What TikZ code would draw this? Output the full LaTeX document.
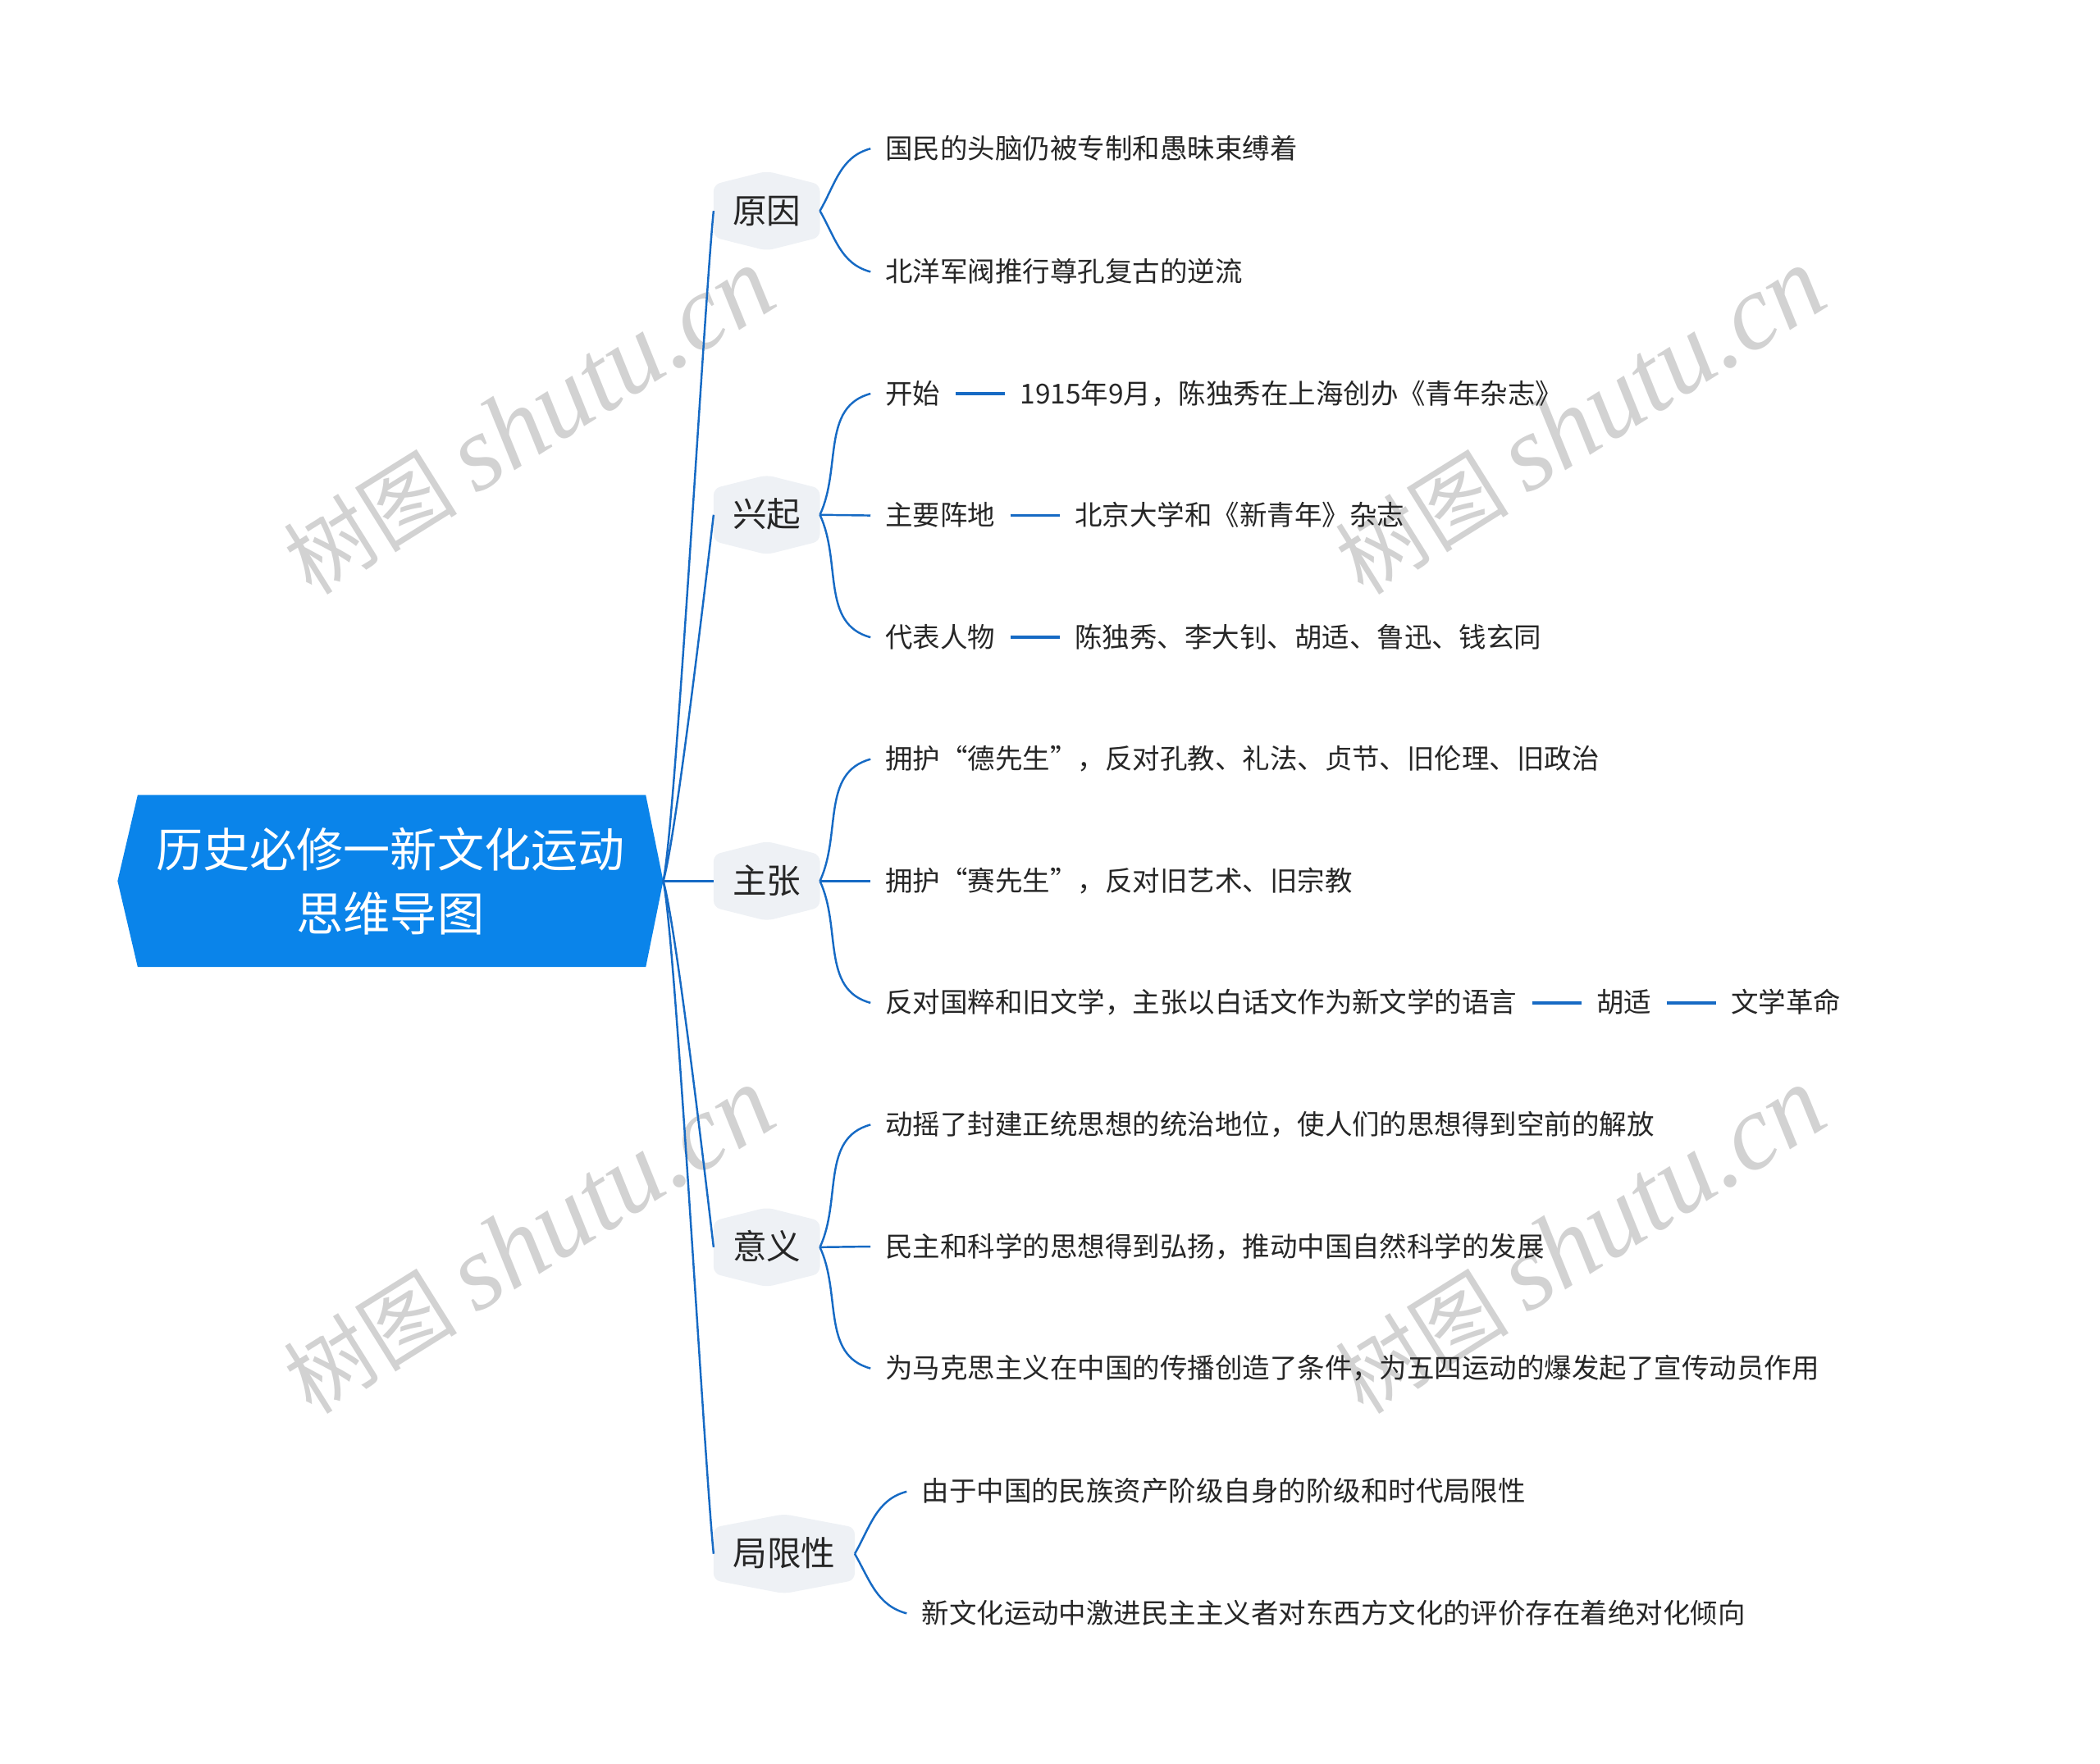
\documentclass[tikz,border=0pt]{standalone}
\usepackage{fontspec}
\setmainfont{Noto Sans CJK SC}
\newfontfamily\wmcjk{Noto Sans CJK SC}
\newfontfamily\wmlatin{Liberation Serif}
\usetikzlibrary{calc,backgrounds,positioning}
\definecolor{rootblue}{RGB}{10,132,234}
\definecolor{linkblue}{RGB}{22,106,196}
\definecolor{hexfill}{RGB}{238,241,245}
\definecolor{txt}{RGB}{38,38,38}
\definecolor{wmgray}{RGB}{210,210,210}
\newcommand{\wmtext}{{\wmcjk\fontsize{65}{70}\selectfont 树图}\hspace{14pt}{\wmlatin\itshape\fontsize{80}{86}\selectfont shutu.cn}}
\begin{document}
\begin{tikzpicture}[x=1pt,y=1pt,
  rootnode/.style={minimum width=407pt,minimum height=128pt,inner sep=0pt,text=white,font=\fontsize{35}{48}\selectfont,align=center},
  branch/.style={minimum height=59pt,minimum width=79pt,inner sep=0pt,text=txt,font=\fontsize{25.5}{30}\selectfont,text height=21.8pt,text depth=3.4pt},
  leaf/.style={anchor=west,inner xsep=11pt,inner ysep=0pt,text=txt,font=\fontsize{20.5}{24}\selectfont,text height=17.5pt,text depth=2.7pt},
  link/.style={draw=linkblue,line width=1.5pt},
  barlink/.style={draw=linkblue,line width=2.2pt},
  wmark/.style={text=wmgray,inner sep=0pt,rotate=32}
]
\useasboundingbox (0,0) rectangle (1568,-1317);

% watermarks
\node[wmark] (wm1) at (395,-315) {\wmtext};
\node[wmark] (wm2) at (1180,-315) {\wmtext};
\node[wmark] (wm3) at (395,-927) {\wmtext};
\node[wmark] (wm4) at (1180,-927) {\wmtext};

% root
\node[rootnode] (root) at (291.5,-658) {历史必修一新文化运动\\思维导图};

% branches
\node[branch] (b1) at (572.5,-157.5) {原因};
\node[branch] (b2) at (572.5,-384.5) {兴起};
\node[branch] (b3) at (572.5,-658) {主张};
\node[branch] (b4) at (572.5,-931.5) {意义};
\node[branch,minimum width=105pt] (b5) at (585.5,-1160.5) {局限性};

\begin{scope}[on background layer]
\fill[rootblue] (root.west) -- ($(root.north west)+(15,0)$) -- ($(root.north east)+(-13,0)$) -- (root.east) -- ($(root.south east)+(-13,0)$) -- ($(root.south west)+(15,0)$) -- cycle;
\foreach \n in {b1,b2,b3,b4,b5}
  \fill[hexfill,rounded corners=5pt] (\n.north) -- ($(\n.north east)+(0,-10)$) -- ($(\n.south east)+(0,10)$) -- (\n.south) -- ($(\n.south west)+(0,10)$) -- ($(\n.north west)+(0,-10)$) -- cycle;
\end{scope}

% leaves
\node[leaf] (l11) at (650,-111) {国民的头脑仍被专制和愚昧束缚着};
\node[leaf] (l12) at (650,-203) {北洋军阀推行尊孔复古的逆流};
\node[leaf] (l21) at (650,-294) {开始};
\node[leaf,right=37pt of l21] (l21b) {1915年9月，陈独秀在上海创办《青年杂志》};
\node[leaf] (l22) at (650,-385) {主要阵地};
\node[leaf,right=37pt of l22] (l22b) {北京大学和《新青年》杂志};
\node[leaf] (l23) at (650,-476) {代表人物};
\node[leaf,right=37pt of l23] (l23b) {陈独秀、李大钊、胡适、鲁迅、钱玄同};
\node[leaf] (l31) at (650,-567) {拥护“德先生”，反对孔教、礼法、贞节、旧伦理、旧政治};
\node[leaf] (l32) at (650,-658) {拥护“赛先生”，反对旧艺术、旧宗教};
\node[leaf] (l33) at (650,-749) {反对国粹和旧文学，主张以白话文作为新文学的语言};
\node[leaf,right=37pt of l33] (l33b) {胡适};
\node[leaf,right=37pt of l33b] (l33c) {文学革命};
\node[leaf] (l41) at (650,-840) {动摇了封建正统思想的统治地位，使人们的思想得到空前的解放};
\node[leaf] (l42) at (650,-931) {民主和科学的思想得到弘扬，推动中国自然科学的发展};
\node[leaf] (l43) at (650,-1022) {为马克思主义在中国的传播创造了条件，为五四运动的爆发起了宣传动员作用};
\node[leaf] (l51) at (677,-1114) {由于中国的民族资产阶级自身的阶级和时代局限性};
\node[leaf] (l52) at (677,-1205) {新文化运动中激进民主主义者对东西方文化的评价存在着绝对化倾向};

% root to branches
\draw[link] (root.east) .. controls ($(root.east)+(9,40)$) and ($(b1.west)+(-7,-70)$) .. (b1.west);
\draw[link] (root.east) .. controls ($(root.east)+(9,30)$) and ($(b2.west)+(-7,-60)$) .. (b2.west);
\draw[link] (root.east) -- (b3.west);
\draw[link] (root.east) .. controls ($(root.east)+(9,-30)$) and ($(b4.west)+(-7,60)$) .. (b4.west);
\draw[link] (root.east) .. controls ($(root.east)+(9,-40)$) and ($(b5.west)+(-7,70)$) .. (b5.west);

% branches to leaves
\draw[link] (b1.east) to[out=60,in=195] (l11.west);
\draw[link] (b1.east) to[out=-60,in=165] (l12.west);
\draw[link] (b2.east) to[out=65,in=195] (l21.west);
\draw[link] (b2.east) -- (l22.west);
\draw[link] (b2.east) to[out=-65,in=165] (l23.west);
\draw[link] (b3.east) to[out=65,in=195] (l31.west);
\draw[link] (b3.east) -- (l32.west);
\draw[link] (b3.east) to[out=-65,in=165] (l33.west);
\draw[link] (b4.east) to[out=65,in=195] (l41.west);
\draw[link] (b4.east) -- (l42.west);
\draw[link] (b4.east) to[out=-65,in=165] (l43.west);
\draw[link] (b5.east) to[out=60,in=195] (l51.west);
\draw[link] (b5.east) to[out=-60,in=165] (l52.west);

% leaf to leaf
\draw[barlink] (l21.east) -- (l21b.west);
\draw[barlink] (l22.east) -- (l22b.west);
\draw[barlink] (l23.east) -- (l23b.west);
\draw[barlink] (l33.east) -- (l33b.west);
\draw[barlink] (l33b.east) -- (l33c.west);
\end{tikzpicture}
\end{document}
